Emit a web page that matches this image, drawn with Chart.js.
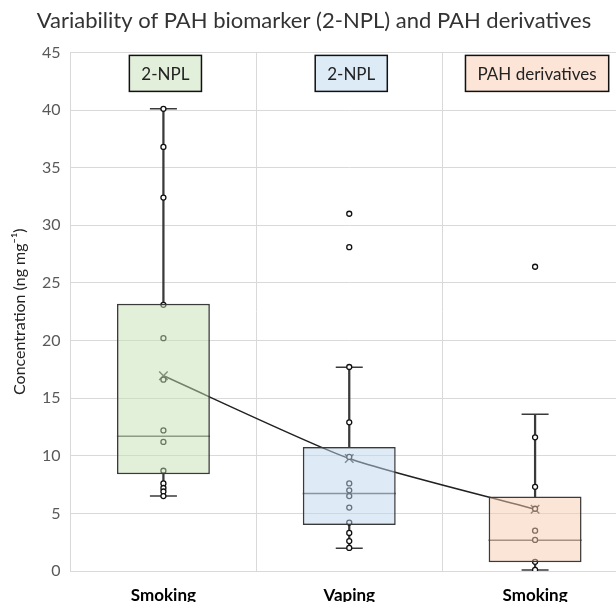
<!DOCTYPE html>
<html><head><meta charset="utf-8">
<script src="https://cdn.jsdelivr.net/npm/chart.js@4.4.0/dist/chart.umd.min.js"></script>
<style>
html,body{margin:0;padding:0;overflow:hidden;background:#fff;width:616px;height:602px}
#wrap{position:absolute;left:0;top:0;width:634px;height:620px}
</style>
</head><body>
<div id="wrap"><canvas id="c" width="634" height="620"></canvas></div>
<script>
// ---- data ----
const categories = ['Smoking', 'Vaping', 'Smoking'];
const groupLabels = ['2-NPL', '2-NPL', 'PAH derivatives'];
const q1 = [8.4, 4.0, 0.76];
const q3 = [23.2, 10.77, 6.46];
const medians = [11.7, 6.72, 2.66];
const means = [16.94, 9.76, 5.36];
const whiskerLow = [6.5, 1.97, 0.09];
const whiskerHigh = [40.1, 17.67, 13.6];
const smokingPts = [40.1, 36.8, 32.4, 23.1, 20.2, 16.6, 12.2, 11.2, 8.7, 7.6, 7.2, 6.9, 6.5];
const vapingPts = [31.0, 28.1, 17.7, 12.9, 9.9, 7.6, 7.0, 6.5, 5.5, 4.2, 3.3, 2.6, 2.0];
const pahPts = [26.4, 11.6, 7.3, 5.4, 3.5, 2.7, 0.8, 0.1];
const yTickValues = [0, 5, 10, 15, 20, 25, 30, 35, 40, 45];

// ---- styles ----
const boxFills = ['rgba(197,224,180,0.5)', 'rgba(189,215,238,0.5)', 'rgba(248,203,173,0.5)'];
const labelFills = ['#e2efda', '#ddebf7', '#fce4d6'];
const FONT = 'Lato, "Open Sans", sans-serif';

const catIdx = categories.map((_, i) => i);
const allPts = [smokingPts, vapingPts, pahPts];
const pointData = [];
allPts.forEach((arr, i) => arr.forEach(v => pointData.push({x: i, y: v})));

const capData = [];
catIdx.forEach(i => { capData.push({x: i, y: whiskerLow[i]}); capData.push({x: i, y: whiskerHigh[i]}); });

const groupLabelPlugin = {
  id: 'groupLabels',
  afterDatasetsDraw(chart) {
    const {ctx, chartArea, scales} = chart;
    ctx.save();
    ctx.font = '17px ' + FONT;
    ctx.textAlign = 'center';
    ctx.textBaseline = 'middle';
    groupLabels.forEach((t, i) => {
      const cx = scales.x.getPixelForValue(i) + 2;
      const w = ctx.measureText(t).width + 24;
      const h = 36;
      const top = chartArea.top + 3;
      ctx.fillStyle = labelFills[i];
      ctx.fillRect(cx - w / 2, top, w, h);
      ctx.lineWidth = 1.5;
      ctx.strokeStyle = '#111';
      ctx.strokeRect(cx - w / 2, top, w, h);
      ctx.fillStyle = '#222';
      ctx.fillText(t, cx, top + h / 2 + 1);
    });
    ctx.restore();
  }
};

new Chart(document.getElementById('c'), {
  type: 'bar',
  data: {
    labels: catIdx,
    datasets: [
      {
        label: 'box', order: 0, grouped: false,
        data: catIdx.map(i => [q1[i], q3[i]]),
        backgroundColor: boxFills, borderColor: '#3a3a3a', borderWidth: 1.5, borderSkipped: false,
        barPercentage: 0.5, categoryPercentage: 1.0
      },
      {
        label: 'whiskerLow', order: 3, grouped: false,
        data: catIdx.map(i => [whiskerLow[i], q1[i]]),
        backgroundColor: '#3a3a3a', barThickness: 1.6
      },
      {
        label: 'whiskerHigh', order: 3, grouped: false,
        data: catIdx.map(i => [q3[i], whiskerHigh[i]]),
        backgroundColor: '#3a3a3a', barThickness: 1.6
      },
      {
        type: 'line', label: 'caps', order: 2, showLine: false,
        data: capData, pointStyle: 'line', pointRadius: 13.5, pointHoverRadius: 13.5,
        pointBorderColor: '#3a3a3a', pointBorderWidth: 1.5
      },
      {
        type: 'line', label: 'median', order: 2, showLine: false,
        data: medians.map((v, i) => ({x: i, y: v})), pointStyle: 'line', pointRadius: 46.5,
        pointBorderColor: '#555', pointBorderWidth: 1.5
      },
      {
        type: 'line', label: 'points', order: 1, showLine: false,
        data: pointData, pointStyle: 'circle', pointRadius: 2.5,
        pointBorderColor: '#111', pointBackgroundColor: '#fff', pointBorderWidth: 1.3
      },
      {
        type: 'line', label: 'mean', order: 1,
        data: means.map((v, i) => ({x: i, y: v})), borderColor: '#222', borderWidth: 1.5, tension: 0.2,
        pointStyle: 'crossRot', pointRadius: 6, pointBorderColor: '#444', pointBorderWidth: 1.5, fill: false
      }
    ]
  },
  options: {
    responsive: false, animation: false, devicePixelRatio: 1,
    layout: {autoPadding: false, padding: {left: 0, right: 6, top: 0, bottom: 0}},
    plugins: {
      legend: {display: false}, tooltip: {enabled: false},
      title: {
        display: true, text: 'Variability of PAH biomarker (2-NPL) and PAH derivatives',
        color: '#333', font: {family: FONT, size: 22, weight: 'normal'},
        padding: {top: 8, bottom: 18}
      }
    },
    scales: {
      x: {
        type: 'category', offset: true,
        grid: {display: true, offset: true, color: '#d9d9d9', drawTicks: false},
        border: {color: '#d9d9d9'},
        ticks: {color: '#000', font: {family: FONT, size: 17, weight: 'bold'}, padding: 14,
                callback: (v, i) => categories[i]},
        afterFit(s) { s.height = 49; }
      },
      y: {
        min: 0, max: 45,
        afterBuildTicks(s) { s.ticks = yTickValues.map(v => ({value: v})); },
        grid: {color: '#d9d9d9', drawTicks: false},
        border: {color: '#d9d9d9'},
        ticks: {color: '#595959', font: {family: FONT, size: 16}, padding: 10},
        title: {display: true, text: 'Concentration (ng mg\u207B\u00B9)', color: '#222', font: {family: FONT, size: 16}, padding: {top: 10, bottom: 0}},
        afterFit(s) { s.width = 70.5; }
      }
    }
  },
  plugins: [groupLabelPlugin]
});
</script>
</body></html>
